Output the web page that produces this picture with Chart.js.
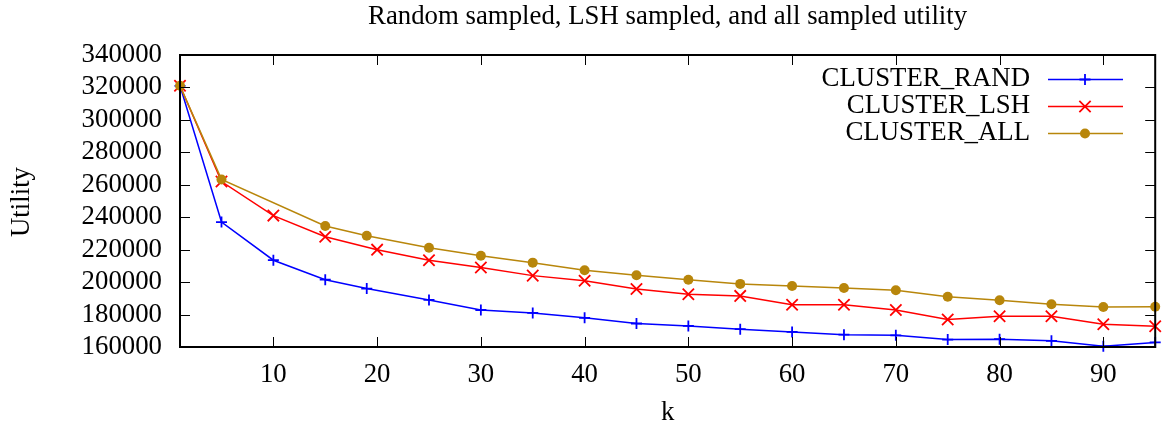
<!DOCTYPE html>
<html>
<head>
<meta charset="utf-8">
<script src="https://cdn.jsdelivr.net/npm/chart.js@4.4.1/dist/chart.umd.min.js"></script>
<style>
html,body{margin:0;padding:0;background:#fff;}
#wrap{width:1165px;height:429px;position:relative;}
</style>
</head>
<body>
<div id="wrap"><canvas id="c" width="1165" height="429"></canvas></div>
<script>
// ---- data ----
const chartTitle = "Random sampled, LSH sampled, and all sampled utility";
const xAxisTitle = "k";
const yAxisTitle = "Utility";
const seriesNames = ["CLUSTER_RAND", "CLUSTER_LSH", "CLUSTER_ALL"];

const kRand = [1, 5, 10, 15, 19, 25, 30, 35, 40, 45, 50, 55, 60, 65, 70, 75, 80, 85, 90, 95];
const utilRand = [321000, 237000, 213500, 201500, 196000, 189000, 182800, 181000, 178000, 174500, 173000, 171000, 169300, 167600, 167200, 164600, 164800, 163800, 160400, 162800];

const kLsh = [1, 5, 10, 15, 20, 25, 30, 35, 40, 45, 50, 55, 60, 65, 70, 75, 80, 85, 90, 95];
const utilLsh = [321000, 262000, 241000, 228000, 220000, 213500, 209000, 204000, 200800, 195800, 192500, 191500, 186000, 186000, 182800, 177000, 179000, 179000, 174000, 172800];

const kAll = [1, 5, 15, 19, 25, 30, 35, 40, 45, 50, 55, 60, 65, 70, 75, 80, 85, 90, 95];
const utilAll = [321000, 263300, 234600, 228600, 221200, 216300, 212000, 207300, 204200, 201500, 198900, 197600, 196400, 195000, 191000, 188800, 186400, 184700, 184800];

const xTicks = [10, 20, 30, 40, 50, 60, 70, 80, 90];
const yTicks = [160000, 180000, 200000, 220000, 240000, 260000, 280000, 300000, 320000, 340000];

// ---- styles ----
const FONT_FAMILY = "'Liberation Serif', 'Times New Roman', serif";
const FONT_SIZE = 26.8;
const colors = ["#0000ff", "#ff0000", "#b8860b"];
const pointStyles = ["cross", "crossRot", "circle"];
const pointRadii = [5.5, 8, 5];

function pts(xs, ys) { return xs.map((x, i) => ({x: x, y: ys[i]})); }

function drawText(ctx, str, x, y, align, rot) {
  ctx.save();
  ctx.translate(x, y);
  if (rot) ctx.rotate(rot);
  ctx.font = FONT_SIZE + "px " + FONT_FAMILY;
  ctx.fillStyle = "#000";
  ctx.textAlign = align;
  ctx.textBaseline = "middle";
  ctx.fillText(str, 0, 0);
  ctx.restore();
}

const gnuplotFrame = {
  id: 'gnuplotFrame',
  afterDraw(chart) {
    const ctx = chart.ctx;
    const a = chart.chartArea;
    const xs = chart.scales.x, ys = chart.scales.y;
    ctx.save();
    // ticks
    ctx.strokeStyle = "#000";
    ctx.lineWidth = 1;
    const TL = 10;
    ctx.beginPath();
    yTicks.forEach(v => {
      const p = Math.round(ys.getPixelForValue(v)) + 0.5;
      ctx.moveTo(a.left, p); ctx.lineTo(a.left + TL, p);
      ctx.moveTo(a.right, p); ctx.lineTo(a.right - TL, p);
    });
    xTicks.forEach(v => {
      const p = Math.round(xs.getPixelForValue(v)) + 0.5;
      ctx.moveTo(p, a.bottom); ctx.lineTo(p, a.bottom - TL);
      ctx.moveTo(p, a.top); ctx.lineTo(p, a.top + TL);
    });
    ctx.stroke();
    // border
    ctx.lineWidth = 2;
    ctx.strokeRect(a.left, a.top, a.right - a.left, a.bottom - a.top);
    // tick labels
    yTicks.forEach(v => {
      drawText(ctx, String(v), 162, ys.getPixelForValue(v), "right");
    });
    xTicks.forEach(v => {
      drawText(ctx, String(v), xs.getPixelForValue(v), 375, "center");
    });
    // titles
    drawText(ctx, chartTitle, (a.left + a.right) / 2, 17, "center");
    drawText(ctx, xAxisTitle, (a.left + a.right) / 2, 413, "center");
    drawText(ctx, yAxisTitle, 22, 202, "center", -Math.PI / 2);
    // legend
    const rowY = [79, 106, 133];
    chart.data.datasets.forEach((ds, i) => {
      const y = rowY[i];
      drawText(ctx, ds.label, 1030, y, "right");
      ctx.save();
      ctx.strokeStyle = ds.borderColor;
      ctx.lineWidth = ds.borderWidth;
      ctx.beginPath();
      ctx.moveTo(1048, y + 0.5); ctx.lineTo(1123, y + 0.5);
      ctx.stroke();
      ctx.fillStyle = ds.pointBackgroundColor;
      ctx.strokeStyle = ds.pointBorderColor;
      ctx.lineWidth = ds.pointBorderWidth;
      Chart.helpers.drawPoint(ctx, {
        pointStyle: ds.pointStyle, radius: ds.pointRadius,
        borderWidth: ds.pointBorderWidth, rotation: 0
      }, 1085, y + 0.5);
      ctx.restore();
    });
    ctx.restore();
  }
};

const xsArr = [kRand, kLsh, kAll];
const ysArr = [utilRand, utilLsh, utilAll];

const datasets = seriesNames.map((name, i) => ({
  label: name,
  data: pts(xsArr[i], ysArr[i]),
  borderColor: colors[i],
  backgroundColor: colors[i],
  pointBackgroundColor: colors[i],
  pointBorderColor: colors[i],
  borderWidth: 1.5,
  pointBorderWidth: i === 2 ? 0 : 1.8,
  pointStyle: pointStyles[i],
  pointRadius: pointRadii[i],
  pointHoverRadius: pointRadii[i],
  tension: 0,
  fill: false,
  clip: false,
  order: 3 - i
}));

new Chart(document.getElementById('c'), {
  type: 'line',
  data: { datasets: datasets },
  plugins: [gnuplotFrame],
  options: {
    responsive: false,
    animation: false,
    events: [],
    layout: { padding: { left: 0, right: 8, top: 55, bottom: 0 } },
    plugins: { legend: { display: false }, title: { display: false }, tooltip: { enabled: false } },
    scales: {
      x: {
        type: 'linear', min: 1, max: 95,
        grid: { display: false, drawTicks: false },
        border: { display: false },
        ticks: { display: false },
        afterFit(s) { s.height = 82; }
      },
      y: {
        type: 'linear', min: 160000, max: 340000,
        grid: { display: false, drawTicks: false },
        border: { display: false },
        ticks: { display: false, stepSize: 20000 },
        afterFit(s) { s.width = 180; }
      }
    }
  }
});
</script>
</body>
</html>
